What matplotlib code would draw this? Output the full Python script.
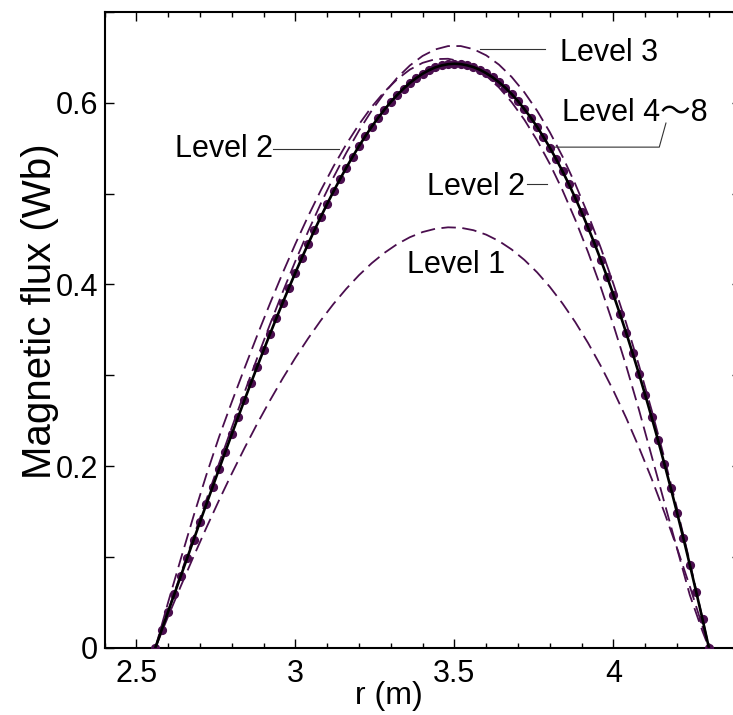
import matplotlib
matplotlib.use("Agg")
import matplotlib.pyplot as plt
from matplotlib.ticker import MultipleLocator, FixedLocator

plt.rcParams['font.family'] = ['Liberation Sans', 'Noto Sans CJK JP', 'DejaVu Sans']

# ---- data ----
# converged solution (Level 4~8), sampled every 0.02 m
r_main = [2.56 + 0.02 * i for i in range(88)]
psi_main = [0, 0.0199, 0.0396, 0.0594, 0.0791, 0.0988, 0.1185, 0.1382, 0.1578, 0.1772,
            0.1966, 0.2159, 0.2350, 0.2539, 0.2726, 0.2911, 0.3094, 0.3274, 0.3452, 0.3626,
            0.3797, 0.3965, 0.4129, 0.4289, 0.4445, 0.4597, 0.4744, 0.4887, 0.5025, 0.5157,
            0.5285, 0.5406, 0.5523, 0.5633, 0.5737, 0.5834, 0.5925, 0.6009, 0.6086, 0.6156,
            0.6219, 0.6273, 0.6320, 0.6359, 0.6390, 0.6412, 0.6425, 0.6430,
            0.6426, 0.6413, 0.6393, 0.6364, 0.6326, 0.6281, 0.6227, 0.6166, 0.6096, 0.6018,
            0.5931, 0.5837, 0.5735, 0.5624, 0.5506, 0.5379, 0.5245, 0.5103, 0.4952, 0.4794,
            0.4628, 0.4454, 0.4272, 0.4083, 0.3885, 0.3680, 0.3467, 0.3246, 0.3017, 0.2781,
            0.2537, 0.2286, 0.2026, 0.1759, 0.1485, 0.1203, 0.0913, 0.0616, 0.0311, 0]

# coarse levels, sampled every 0.04 m
r_lev = [2.56 + 0.04 * k for k in range(44)] + [4.30]
psi_lev1 = [0, .0344, .0679, .1004, .1319, .1623, .1916, .2197, .2466, .2721, .2964, .3192,
            .3405, .3604, .3786, .3952, .4102, .4234, .4348, .4444, .4520, .4577, .4613, .4629,
            .4624, .4597, .4548, .4478, .4385, .4270, .4133, .3973, .3790, .3585, .3356, .3104,
            .2829, .2530, .2207, .1861, .1490, .1095, .0676, .0232, 0]
psi_lev2 = [0, .050, .098, .145, .190, .232, .2704, .3076, .3438, .3788, .4125, .4446,
            .4750, .5036, .5301, .5543, .5762, .5956, .6122, .6259, .6366, .6440, .6481, .6485,
            .6456, .6393, .6298, .6169, .6007, .5813, .5586, .5327, .5036, .4712, .4357, .3971,
            .3552, .3103, .2622, .2111, .160, .109, .058, .018, 0]
psi_lev3 = [0, .04086, .08154, .12219, .16264, .20273, .24226, .28108, .3190, .35586, .39147,
            .42567, .45829, .48914, .51805, .54485, .56937, .59144, .61086, .6275, .64114,
            .65163, .6588, .66247, .6625, .65908, .65226, .64204, .62846, .61152, .59125,
            .56766, .54077, .51059, .47715, .44046, .40054, .35741, .31108, .26158, .20891,
            .1531, .09416, .03211, 0]

x_ticks = [2.5, 3, 3.5, 4]
x_ticklabels = ['2.5', '3', '3.5', '4']
y_ticks = [0, 0.2, 0.4, 0.6]
y_ticklabels = ['0', '0.2', '0.4', '0.6']

PURPLE = '#4a0e4e'
FS = 22

fig = plt.figure(figsize=(7.33, 7.15), dpi=100)
ax = fig.add_axes([104.5 / 733, 67.3 / 715, 636.2 / 733, 635.7 / 715])

dash = (0, (8.0, 3.6))
for ys in (psi_lev1, psi_lev2, psi_lev3):
    ax.plot(r_lev, ys, color=PURPLE, lw=1.3, linestyle=dash, zorder=2)

ax.plot(r_main, psi_main, linestyle='none', marker='o', ms=5.6,
        color=PURPLE, mec=PURPLE, zorder=3)
ax.plot(r_main, psi_main, color='black', lw=1.9, zorder=4)

ax.set_xlim(2.4, 4.4)
ax.set_ylim(0, 0.7)
ax.set_xticks(x_ticks)
ax.set_xticklabels(x_ticklabels)
ax.xaxis.set_minor_locator(MultipleLocator(0.1))
ax.set_yticks(y_ticks)
ax.set_yticklabels(y_ticklabels)
ax.yaxis.set_minor_locator(FixedLocator([0.1, 0.3, 0.5, 0.7]))

ax.tick_params(which='both', direction='in', top=True, right=True, width=1.0,
               labelsize=FS, colors='black')
ax.tick_params(axis='x', which='major', length=6.5, pad=8)
ax.tick_params(axis='x', which='minor', length=3.6)
ax.tick_params(axis='y', which='both', length=6.5, pad=4.5)
for s in ax.spines.values():
    s.set_linewidth(1.5)

ax.set_xlabel('r (m)', fontsize=23, labelpad=0)
ax.xaxis.set_label_coords(0.447, -0.053)
ax.set_ylabel('Magnetic flux (Wb)', fontsize=29)
ax.yaxis.set_label_coords(-0.071, 0.530)

lead = dict(color='#333333', lw=0.8)
# Level 3
ax.plot([3.580, 3.785], [0.659, 0.659], **lead)
ax.text(3.832, 0.655, 'Level 3', fontsize=FS, va='center', ha='left')
# Level 4~8
ax.plot([3.811, 4.144, 4.165], [0.5512, 0.5512, 0.5777], **lead)
ax.text(3.837, 0.589, 'Level 4〜8', fontsize=FS, va='center', ha='left')
# Level 2 right
ax.plot([3.727, 3.790], [0.5105, 0.5105], **lead)
ax.text(3.722, 0.5075, 'Level 2', fontsize=FS, va='center', ha='right')
# Level 2 left
ax.plot([2.930, 3.137], [0.5494, 0.5494], **lead)
ax.text(2.930, 0.5494, 'Level 2', fontsize=FS, va='center', ha='right')
# Level 1
ax.text(3.350, 0.421, 'Level 1', fontsize=FS, va='center', ha='left')

fig.savefig('out.png', dpi=100)
